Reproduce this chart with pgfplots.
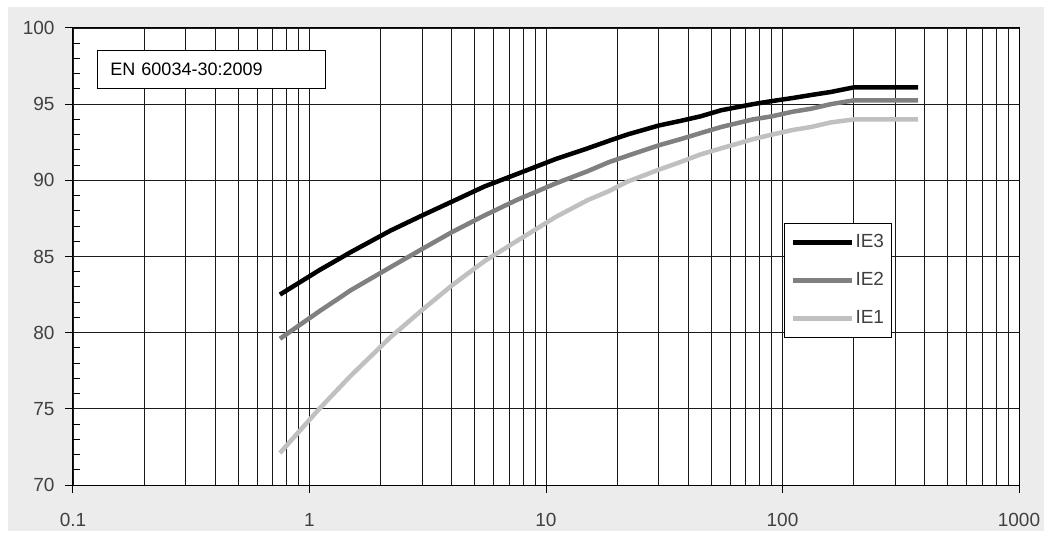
\documentclass[border=0pt]{standalone}
\usepackage{pgfplots}
\pgfplotsset{compat=1.18}
\usepackage{fontspec}
\setmainfont{Liberation Sans}
\definecolor{bggray}{HTML}{ECECEC}
\definecolor{ietwo}{HTML}{808080}
\definecolor{ieone}{HTML}{C0C0C0}
\definecolor{txt}{HTML}{404040}
\definecolor{gridc}{HTML}{1A1A1A}
\begin{document}
\begin{tikzpicture}
\fill[white] (-73bp,-48bp) rectangle (971bp,485bp);
\fill[bggray] (-65bp,-46bp) rectangle (971bp,478bp);
\begin{axis}[
  at={(0,0)}, anchor=south west,
  scale only axis, width=946bp, height=457bp,
  xmode=log, log basis x=10,
  xmin=0.1, xmax=1000, ymin=70, ymax=100,
  xtick={0.1,1,10,100,1000}, xticklabels={0.1,1,10,100,1000},
  minor xtick={0.2,0.3,0.4,0.5,0.6,0.7,0.8,0.9,2,3,4,5,6,7,8,9,20,30,40,50,60,70,80,90,200,300,400,500,600,700,800,900},
  ytick={70,75,80,85,90,95,100}, yticklabels={70,75,80,85,90,95,100},
  extra y ticks={71,72,73,74,76,77,78,79,81,82,83,84,86,87,88,89,91,92,93,94,96,97,98,99},
  extra y tick labels={},
  extra y tick style={tick align=inside, major tick length=7bp, grid=none},
  xmajorgrids=true, xminorgrids=true, ymajorgrids=true,
  grid style={gridc, line width=0.9bp},
  minor grid style={gridc, line width=0.9bp},
  axis background/.style={fill=white},
  axis line style={black, line width=1bp},
  tick align=outside, tick pos=left,
  major tick length=8bp, minor tick length=0pt,
  tick style={black, line width=1bp},
  xticklabel style={font=\fontsize{19bp}{19bp}\selectfont, text=txt, yshift=-17bp},
  yticklabel style={font=\fontsize{19bp}{19bp}\selectfont, text=txt, xshift=-7bp},
  legend style={at={(0.7516,0.5733)}, anchor=north west, draw=black, line width=1bp,
    fill=white, inner xsep=6bp, inner ysep=0bp, row sep=0pt, column sep=0pt,
    font=\fontsize{19bp}{19bp}\selectfont, text=txt,
    nodes={inner xsep=1.5bp, inner ysep=10bp, text height=14bp, text depth=4bp}},
  legend cell align=left,
  legend image code/.code={\path (0bp,-6.5bp) (0bp,6.5bp); \draw[#1] (0bp,0bp) -- (59bp,0bp);},
  every axis plot/.append style={line width=4.5bp, line join=round},
]
\addplot[black] coordinates {
(0.75,82.5) (1.1,84.1) (1.5,85.3) (2.2,86.7) (3,87.7) (4,88.6) (5.5,89.6) (7.5,90.4)
(11,91.4) (15,92.1) (18.5,92.6) (22,93.0) (30,93.6) (37,93.9) (45,94.2) (55,94.6)
(75,95.0) (90,95.2) (110,95.4) (132,95.6) (160,95.8) (200,96.1) (375,96.1)};
\addlegendentry{IE3\hspace{6bp}}
\addplot[ietwo] coordinates {
(0.75,79.6) (1.1,81.4) (1.5,82.8) (2.2,84.3) (3,85.5) (4,86.6) (5.5,87.7) (7.5,88.7)
(11,89.8) (15,90.6) (18.5,91.2) (22,91.6) (30,92.3) (37,92.7) (45,93.1) (55,93.5)
(75,94.0) (90,94.2) (110,94.5) (132,94.7) (160,95.0) (200,95.25) (375,95.25)};
\addlegendentry{IE2\hspace{6bp}}
\addplot[ieone] coordinates {
(0.75,72.1) (1.1,75.0) (1.5,77.2) (2.2,79.7) (3,81.5) (4,83.1) (5.5,84.7) (7.5,86.0)
(11,87.6) (15,88.7) (18.5,89.3) (22,89.9) (30,90.7) (37,91.2) (45,91.7) (55,92.1)
(75,92.7) (90,93.0) (110,93.3) (132,93.5) (160,93.8) (200,94.0) (375,94.0)};
\addlegendentry{IE1\hspace{6bp}}
\node[draw=black, line width=0.9bp, fill=white, anchor=north west,
  minimum width=228bp, minimum height=38bp, text width=202bp, inner xsep=13bp,
  font=\fontsize{18bp}{18bp}\selectfont, text=black, align=left]
  at (rel axis cs:0.0254,0.9519) {EN 60034-30:2009};
\end{axis}
\pgfresetboundingbox
\path (-73bp,-48bp) rectangle (971bp,485bp);
\end{tikzpicture}
\end{document}
